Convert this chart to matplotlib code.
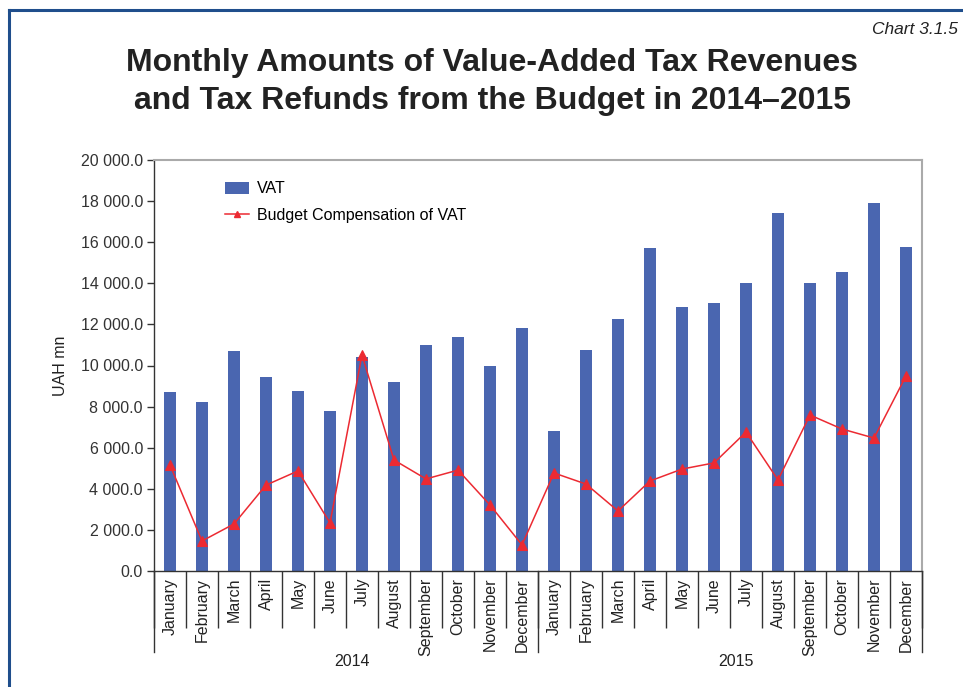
import matplotlib
matplotlib.use("Agg")
import matplotlib.pyplot as plt
from matplotlib.lines import Line2D
from matplotlib.patches import Patch
import matplotlib.transforms as mtransforms

plt.rcParams['font.family'] = ['Liberation Sans', 'DejaVu Sans']

months = ["January", "February", "March", "April", "May", "June", "July",
          "August", "September", "October", "November", "December"]
years = ["2014", "2015"]

vat = [8700, 8200, 10700, 9450, 8760, 7790, 10410, 9200, 11000, 11390, 9980, 11820,
       6810, 10750, 12260, 15720, 12850, 13040, 14010, 17420, 14010, 14550, 17910, 15770]
compensation = [5160, 1460, 2290, 4180, 4870, 2340, 10510, 5400, 4480, 4910, 3210, 1270,
                4770, 4230, 2920, 4380, 4960, 5260, 6760, 4430, 7590, 6910, 6470, 9490]

labels = months * len(years)
x = list(range(len(labels)))

W, H = 963, 687
fig = plt.figure(figsize=(W / 100, H / 100), dpi=100)

# dark blue frame along the top and left edges
frame_col = "#1f4e8c"
fig.add_artist(Line2D([9 / W, 9 / W], [0, 1 - 10 / H], color=frame_col, lw=2.2,
                      transform=fig.transFigure))
fig.add_artist(Line2D([9 / W, 1], [1 - 10 / H, 1 - 10 / H], color=frame_col, lw=2.2,
                      transform=fig.transFigure))

fig.text(958 / W, 1 - 30 / H, "Chart 3.1.5", ha="right", va="center",
         fontsize=12.5, style="italic", color="#222222")
fig.text(492 / W, 1 - 82 / H,
         "Monthly Amounts of Value-Added Tax Revenues\nand Tax Refunds from the Budget in 2014\u20132015",
         ha="center", va="center", fontsize=23, fontweight="bold", color="#222222",
         linespacing=1.38)

ax = fig.add_axes([154 / W, 1 - 571 / H, (922 - 154) / W, (571 - 160) / H])

ax.bar(x, vat, width=0.4, color="#4a66b0", zorder=2)
ax.plot(x, compensation, color="#ec2a32", lw=1.1, marker="^", markersize=7,
        markeredgewidth=0.8, zorder=3)

ax.set_xlim(-0.5, len(labels) - 0.5)
ax.set_ylim(0, 20000)
ax.set_yticks(range(0, 20001, 2000))
ax.set_yticklabels([f"{v // 1000} 000.0" if v else "0.0" for v in range(0, 20001, 2000)])
ax.tick_params(axis="y", direction="out", length=5, width=1, labelsize=11.5,
               colors="#333333", pad=3)
ax.set_ylabel("UAH mn", fontsize=11.5, color="#222222", labelpad=9)

ax.set_xticks(x)
ax.set_xticklabels(labels, rotation=90, fontsize=11.5, color="#222222", va="top")
ax.tick_params(axis="x", which="major", length=0, pad=5)
ax.set_xticks([i + 0.5 for i in range(-1, len(labels))], minor=True)
ax.tick_params(axis="x", which="minor", direction="out", length=41, width=1, color="#333333")

# longer separators between years and year captions
trans = mtransforms.blended_transform_factory(ax.transData, ax.transAxes)
sep_len = (652 - 571) / (571 - 160)
for k in range(len(years) + 1):
    xs = k * 12 - 0.5
    ax.add_artist(Line2D([xs, xs], [0, -sep_len], color="#333333", lw=1,
                         transform=trans, clip_on=False))
for k, yr in enumerate(years):
    ax.text(k * 12 + 5.7, -(662 - 571) / (571 - 160), yr, transform=trans,
            ha="center", va="center", fontsize=11.5, color="#222222")

for s in ["top", "right"]:
    ax.spines[s].set_color("#aaaaaa")
    ax.spines[s].set_linewidth(1.5)
for s in ["left", "bottom"]:
    ax.spines[s].set_color("#333333")
    ax.spines[s].set_linewidth(1)

handles = [Patch(facecolor="#4a66b0"),
           Line2D([], [], color="#ec2a32", lw=1.1, marker="^", markersize=5)]
ax.legend(handles, ["VAT", "Budget Compensation of VAT"], loc="upper left",
          bbox_to_anchor=(211 / W, 1 - 167 / H), bbox_transform=fig.transFigure,
          frameon=False, fontsize=11.5, handlelength=1.45, handleheight=0.8,
          labelspacing=0.7, handletextpad=0.55)

fig.savefig("out.png", dpi=100, facecolor="white")
